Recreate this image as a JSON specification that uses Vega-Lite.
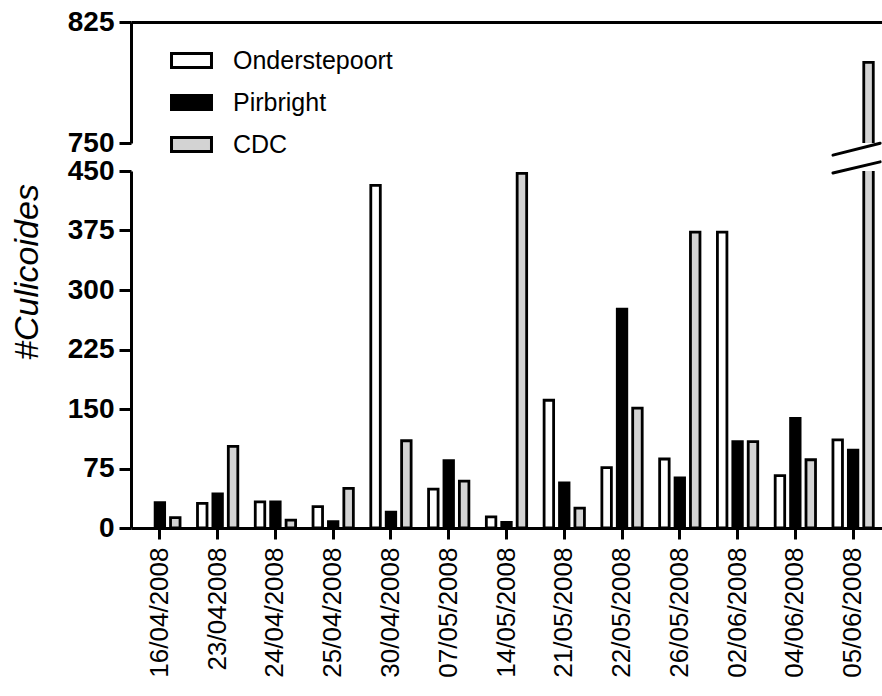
{
  "$schema": "https://vega.github.io/schema/vega-lite/v6.json",
  "padding": {"left": 9, "top": 8, "right": 0, "bottom": 0},
  "bounds": "flush",
  "spacing": 28,
  "background": "white",
  "data": {"values": [
    {"Date": "16/04/2008", "Trap": "Pirbright", "Count": 32},
    {"Date": "16/04/2008", "Trap": "CDC", "Count": 13},
    {"Date": "23/042008", "Trap": "Onderstepoort", "Count": 31},
    {"Date": "23/042008", "Trap": "Pirbright", "Count": 43},
    {"Date": "23/042008", "Trap": "CDC", "Count": 103},
    {"Date": "24/04/2008", "Trap": "Onderstepoort", "Count": 33},
    {"Date": "24/04/2008", "Trap": "Pirbright", "Count": 33},
    {"Date": "24/04/2008", "Trap": "CDC", "Count": 10},
    {"Date": "25/04/2008", "Trap": "Onderstepoort", "Count": 27},
    {"Date": "25/04/2008", "Trap": "Pirbright", "Count": 8},
    {"Date": "25/04/2008", "Trap": "CDC", "Count": 50},
    {"Date": "30/04/2008", "Trap": "Onderstepoort", "Count": 432},
    {"Date": "30/04/2008", "Trap": "Pirbright", "Count": 20},
    {"Date": "30/04/2008", "Trap": "CDC", "Count": 110},
    {"Date": "07/05/2008", "Trap": "Onderstepoort", "Count": 49},
    {"Date": "07/05/2008", "Trap": "Pirbright", "Count": 85},
    {"Date": "07/05/2008", "Trap": "CDC", "Count": 59},
    {"Date": "14/05/2008", "Trap": "Onderstepoort", "Count": 14},
    {"Date": "14/05/2008", "Trap": "Pirbright", "Count": 7},
    {"Date": "14/05/2008", "Trap": "CDC", "Count": 447},
    {"Date": "21/05/2008", "Trap": "Onderstepoort", "Count": 161},
    {"Date": "21/05/2008", "Trap": "Pirbright", "Count": 57},
    {"Date": "21/05/2008", "Trap": "CDC", "Count": 25},
    {"Date": "22/05/2008", "Trap": "Onderstepoort", "Count": 76},
    {"Date": "22/05/2008", "Trap": "Pirbright", "Count": 276},
    {"Date": "22/05/2008", "Trap": "CDC", "Count": 151},
    {"Date": "26/05/2008", "Trap": "Onderstepoort", "Count": 87},
    {"Date": "26/05/2008", "Trap": "Pirbright", "Count": 63},
    {"Date": "26/05/2008", "Trap": "CDC", "Count": 373},
    {"Date": "02/06/2008", "Trap": "Onderstepoort", "Count": 373},
    {"Date": "02/06/2008", "Trap": "Pirbright", "Count": 109},
    {"Date": "02/06/2008", "Trap": "CDC", "Count": 109},
    {"Date": "04/06/2008", "Trap": "Onderstepoort", "Count": 66},
    {"Date": "04/06/2008", "Trap": "Pirbright", "Count": 138},
    {"Date": "04/06/2008", "Trap": "CDC", "Count": 86},
    {"Date": "05/06/2008", "Trap": "Onderstepoort", "Count": 111},
    {"Date": "05/06/2008", "Trap": "Pirbright", "Count": 98},
    {"Date": "05/06/2008", "Trap": "CDC", "Count": 800}
  ]},
  "config": {
    "font": "Liberation Sans",
    "view": {"stroke": null},
    "axis": {
      "domainColor": "black", "domainWidth": 3, "tickColor": "black", "tickWidth": 3,
      "grid": false, "labelColor": "black", "titleColor": "black", "labelFont": "Liberation Sans", "titleFont": "Liberation Sans"
    },
    "legend": {
      "title": null,
      "symbolType": "M-1.86,-0.65H1.86V0.65H-1.86Z",
      "symbolSize": 462,
      "symbolStrokeColor": "black",
      "symbolStrokeWidth": 3,
      "symbolOpacity": 1,
      "labelFontSize": 25,
      "labelFont": "Liberation Sans",
      "labelColor": "black",
      "labelOffset": 29,
      "labelLimit": 400,
      "rowPadding": 15,
      "padding": 0
    }
  },
  "resolve": {"scale": {"y": "independent", "x": "shared", "fill": "shared"}},
  "vconcat": [
    {
      "width": 751,
      "height": 121,
      "mark": {"type": "bar", "stroke": "black", "strokeWidth": 2.8, "clip": true},
      "encoding": {
        "x": {"field": "Date", "type": "nominal", "sort": null,
              "scale": {"paddingInner": 0.302, "paddingOuter": 0.151},
              "axis": {"orient": "top", "labels": false, "ticks": false, "title": null}},
        "xOffset": {"field": "Trap", "type": "nominal", "sort": ["Onderstepoort", "Pirbright", "CDC"],
                    "scale": {"domain": ["Onderstepoort", "Pirbright", "CDC"], "paddingInner": 0.383, "paddingOuter": 0}},
        "y": {"field": "Count", "type": "quantitative", "stack": null,
              "scale": {"domain": [750, 825], "zero": false, "nice": false},
              "axis": {"values": [750, 825], "title": null, "labelFontSize": 28, "labelFontWeight": "bold", "tickSize": 12, "labelPadding": 5}},
        "y2": {"datum": 0},
        "fill": {"field": "Trap", "type": "nominal",
                 "scale": {"domain": ["Onderstepoort", "Pirbright", "CDC"], "range": ["white", "black", "#d3d3d3"]},
                 "legend": {"orient": "none", "legendX": 48, "legendY": 26}}
      }
    },
    {
      "width": 751,
      "height": 357,
      "encoding": {
        "x": {"field": "Date", "type": "nominal", "sort": null,
              "scale": {"paddingInner": 0.302, "paddingOuter": 0.151},
              "axis": {"title": null, "labelAngle": 270, "labelFontSize": 26, "tickSize": 11, "labelPadding": 8}}
      },
      "layer": [
        {
          "mark": {"type": "bar", "stroke": "black", "strokeWidth": 2.8, "clip": true},
          "encoding": {
            "xOffset": {"field": "Trap", "type": "nominal", "sort": ["Onderstepoort", "Pirbright", "CDC"],
                        "scale": {"domain": ["Onderstepoort", "Pirbright", "CDC"], "paddingInner": 0.383, "paddingOuter": 0}},
            "y": {"field": "Count", "type": "quantitative", "stack": null,
                  "scale": {"domain": [0, 450], "nice": false},
                  "axis": {"values": [0, 75, 150, 225, 300, 375, 450], "title": "#Culicoides",
                           "labelFontSize": 28, "labelFontWeight": "bold", "tickSize": 12, "labelPadding": 5,
                           "titleFontSize": 34, "titleFontStyle": "italic", "titleFontWeight": "normal",
                           "titleX": -87, "titleY": 100.5}},
            "fill": {"field": "Trap", "type": "nominal",
                     "scale": {"domain": ["Onderstepoort", "Pirbright", "CDC"], "range": ["white", "black", "#d3d3d3"]},
                     "legend": {"orient": "none", "legendX": 48, "legendY": 26}}
          }
        },
        {
          "data": {"values": [{}]},
          "mark": {"type": "rule", "color": "black", "strokeWidth": 3, "strokeCap": "round"},
          "encoding": {
            "x": {"datum": "05/06/2008", "bandPosition": 0},
            "x2": {"datum": "05/06/2008", "bandPosition": 1.17},
            "y": {"datum": 470},
            "y2": {"datum": 485}
          }
        },
        {
          "data": {"values": [{}]},
          "mark": {"type": "rule", "color": "black", "strokeWidth": 3, "strokeCap": "round"},
          "encoding": {
            "x": {"datum": "05/06/2008", "bandPosition": 0},
            "x2": {"datum": "05/06/2008", "bandPosition": 1.17},
            "y": {"datum": 447.5},
            "y2": {"datum": 461.5}
          }
        }
      ]
    }
  ]
}
